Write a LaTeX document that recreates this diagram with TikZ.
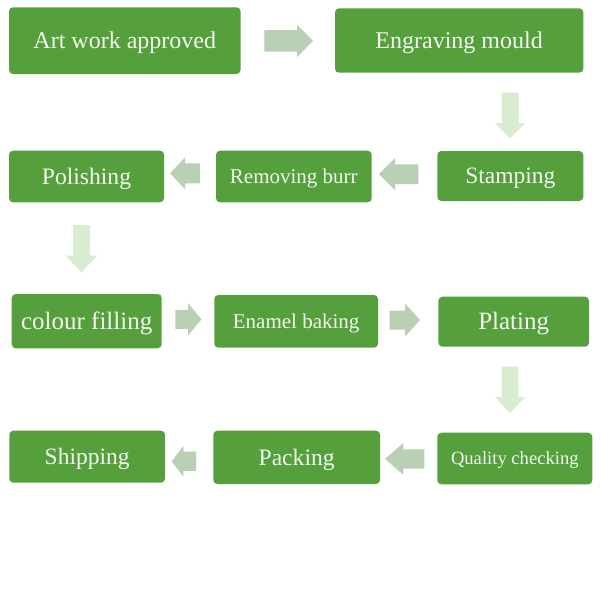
\documentclass[tikz,border=0pt]{standalone}
\usepackage{fontspec}
\setmainfont{Liberation Serif}
\definecolor{boxgreen}{HTML}{559F3D}
\definecolor{boxtext}{HTML}{F3F9EE}
\definecolor{harrowc}{HTML}{B9D0B5}
\definecolor{varrowc}{HTML}{D7ECD1}
\newcommand{\fs}[1]{\fontsize{#1}{#1}\selectfont}
\tikzset{
  stepbox/.style={fill=boxgreen, draw=none, rounded corners=4pt, text=boxtext, inner sep=0pt, align=center, font=\fs{#1}, text height={0.66*#1pt}, text depth=0pt},
  harrow/.style={fill=harrowc, draw=none},
  varrow/.style={fill=varrowc, draw=none}
}
% horizontal block arrow: tail x, head base x, tip x, center y, shaft half, head half
\newcommand{\hblock}[6]{\fill[harrow] (#1,#4-#5) -- (#2,#4-#5) -- (#2,#4-#6) -- (#3,#4) -- (#2,#4+#6) -- (#2,#4+#5) -- (#1,#4+#5) -- cycle;}
% vertical block arrow: center x, top y, head base y, tip y, shaft half, head half
\newcommand{\vblock}[6]{\fill[varrow] (#1-#5,#2) -- (#1+#5,#2) -- (#1+#5,#3) -- (#1+#6,#3) -- (#1,#4) -- (#1-#6,#3) -- (#1-#5,#3) -- cycle;}
\begin{document}
\begin{tikzpicture}[x=1pt,y=-1pt]
\useasboundingbox[fill=white] (0,0) rectangle (608,608);
\node[stepbox=24, minimum width=231.5pt, minimum height=66.7pt] (a) at (124.75,40.65) {Art work approved};
\node[stepbox=24, minimum width=248.3pt, minimum height=64.4pt] (b) at (459.15,40.5) {Engraving mould};
\node[stepbox=23.5, minimum width=146pt, minimum height=50pt] (c) at (510.3,176) {Stamping};
\node[stepbox=21, minimum width=155.7pt, minimum height=51.6pt] (d) at (293.85,176.5) {Removing burr};
\node[stepbox=23.6, minimum width=155pt, minimum height=51.6pt] (e) at (86.5,176.5) {Polishing};
\node[stepbox=25, minimum width=150pt, minimum height=54.3pt] (f) at (86.7,321.15) {colour filling};
\node[stepbox=21, minimum width=163.7pt, minimum height=52.7pt] (g) at (296.15,321.35) {Enamel baking};
\node[stepbox=25, minimum width=150.6pt, minimum height=50pt] (h) at (513.7,321.7) {Plating};
\node[stepbox=18.6, minimum width=155pt, minimum height=51.6pt] (i) at (514.8,458.5) {Quality checking};
\node[stepbox=23.6, minimum width=166.7pt, minimum height=53.3pt] (j) at (296.65,457.35) {Packing};
\node[stepbox=23.5, minimum width=155.7pt, minimum height=52pt] (k) at (87.15,456.7) {Shipping};
% horizontal arrows
\hblock{264.3}{297}{313}{40.85}{10.85}{16.35}
\hblock{418.3}{395}{379}{174.2}{9.85}{16}
\hblock{200}{185}{170}{173.3}{10}{15.8}
\hblock{175.4}{188}{201.5}{319.3}{9.5}{16.2}
\hblock{389.7}{405}{420}{320}{9.5}{16.5}
\hblock{424.3}{403.3}{385}{458.9}{9.65}{15.85}
\hblock{196}{183.3}{171.7}{461.3}{9.65}{15.35}
% vertical arrows
\vblock{510}{92.5}{123}{138}{8.5}{15.5}
\vblock{81.5}{225}{255.5}{272.5}{8.5}{15.8}
\vblock{510}{366.5}{397}{413}{8.3}{15.3}
\end{tikzpicture}
\end{document}
